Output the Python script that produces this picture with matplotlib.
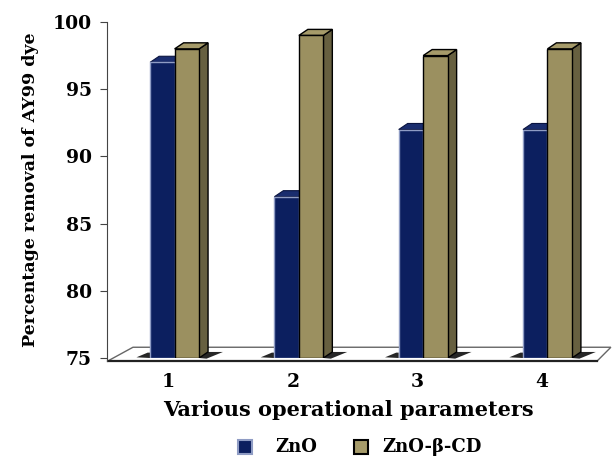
import matplotlib
matplotlib.use("Agg")
import matplotlib.pyplot as plt
from matplotlib.patches import Polygon, Rectangle
import numpy as np

# data
categories = ["1", "2", "3", "4"]
zno = [97, 87, 92, 92]
zno_cd = [98, 99, 97.5, 98]
series_names = ["ZnO", "ZnO-\u03b2-CD"]

plt.rcParams["font.family"] = "DejaVu Serif"
plt.rcParams["font.weight"] = "bold"

fig = plt.figure(figsize=(6.16, 4.59), dpi=100)
ax = fig.add_axes([107 / 616, 101 / 459, 503 / 616, 336 / 459])
ax.set_xlim(-0.544, 3.503)
ax.set_ylim(75, 100)

width = 0.197
dx, dy = 0.072, 0.45   # depth offset of the pseudo 3D faces

navy = "#0c1f5f"
navy_top = "#1a2d6e"
olive = "#9b9060"
olive_side = "#676040"
olive_top = "#a69b6a"

x = np.arange(len(categories))
base = 75

# floor of the chart
floor = Polygon([(-0.537, 74.78), (-0.335, 75.8), (3.51, 75.8), (3.40, 74.78)],
                closed=True, facecolor="white", edgecolor="#666666", lw=1.0,
                clip_on=False, zorder=1)
ax.add_patch(floor)
ax.plot([-0.537, 3.40], [74.78, 74.78], color="#222222", lw=1.6,
        clip_on=False, zorder=1.5)

for i, xi in enumerate(x):
    x0 = xi - width
    x1 = xi
    x2 = xi + width
    h1 = zno[i]
    h2 = zno_cd[i]

    # shadows on the floor
    ax.add_patch(Polygon([(x0 - 0.11, base + 0.05), (x0 - 0.02, base + 0.4),
                          (x0, base + 0.4), (x0, base)],
                         closed=True, facecolor="black", edgecolor="none",
                         alpha=0.85, zorder=2, clip_on=False))
    ax.add_patch(Polygon([(x2, base), (x2 + dx, base + dy), (x2 + dx + 0.12, base + 0.45),
                          (x2 + 0.06, base - 0.05)],
                         closed=True, facecolor="black", edgecolor="none",
                         alpha=0.85, zorder=2, clip_on=False))

    # ZnO bar: top face then front face
    ax.add_patch(Polygon([(x0, h1), (x0 + dx, h1 + dy), (x1 + dx, h1 + dy), (x1, h1)],
                         closed=True, facecolor=navy_top, edgecolor="#0a1440",
                         lw=0.8, zorder=3))
    ax.bar(xi - width / 2, h1 - base, width, bottom=base, color=navy,
           edgecolor="#8f9cc4", lw=1.0, zorder=4)

    # ZnO-beta-CD bar: side, top, front
    ax.add_patch(Polygon([(x2, base), (x2 + dx, base + dy), (x2 + dx, h2 + dy), (x2, h2)],
                         closed=True, facecolor=olive_side, edgecolor="black",
                         lw=1.0, zorder=5))
    ax.add_patch(Polygon([(x1, h2), (x1 + dx, h2 + dy), (x2 + dx, h2 + dy), (x2, h2)],
                         closed=True, facecolor=olive_top, edgecolor="black",
                         lw=1.0, zorder=5))
    ax.bar(xi + width / 2, h2 - base, width, bottom=base, color=olive,
           edgecolor="black", lw=1.0, zorder=6)

# axes styling
for side in ["top", "right", "bottom"]:
    ax.spines[side].set_visible(False)
ax.spines["left"].set_color("#444444")
ax.spines["left"].set_bounds(74.78, 100)
ax.set_yticks([75, 80, 85, 90, 95, 100])
ax.tick_params(axis="y", direction="out", length=5, color="#444444",
               labelsize=13.5, pad=6)
ax.set_xticks(x - 0.05)
ax.set_xticklabels(categories)
ax.tick_params(axis="x", length=0, labelsize=13.5, pad=11)
for lab in ax.get_xticklabels() + ax.get_yticklabels():
    lab.set_fontweight("bold")

ax.set_ylabel("Percentage removal of AY99 dye", fontsize=12.5,
              fontweight="bold", labelpad=10)
ax.set_xlabel("Various operational parameters", fontsize=15,
              fontweight="bold", labelpad=6)
ax.xaxis.set_label_coords(0.48, -0.125)

# legend
fig.patches.append(Rectangle((238 / 616, 1 - 454 / 459), 14 / 616, 14 / 459,
                             transform=fig.transFigure, facecolor=navy,
                             edgecolor="#8f9cc4", lw=1.5))
fig.text(275 / 616, 1 - 447 / 459, series_names[0], fontsize=13,
         fontweight="bold", va="center", ha="left")
fig.patches.append(Rectangle((354 / 616, 1 - 454 / 459), 14 / 616, 14 / 459,
                             transform=fig.transFigure, facecolor=olive_top,
                             edgecolor="black", lw=1.5))
fig.text(382 / 616, 1 - 447 / 459, series_names[1], fontsize=13,
         fontweight="bold", va="center", ha="left")

fig.savefig("out.png", dpi=100)
